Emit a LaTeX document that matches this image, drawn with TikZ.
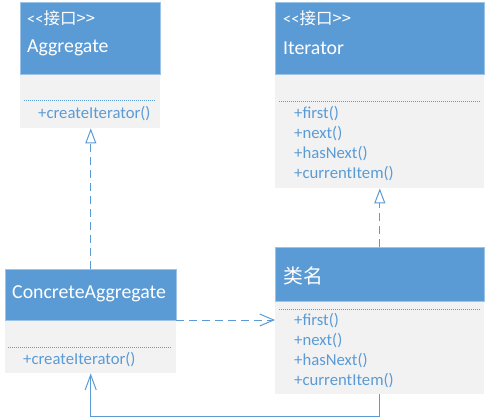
\documentclass[tikz,border=0pt]{standalone}
\usepackage{fontspec}
\newfontfamily\lat{Carlito}
\newfontfamily\cjk{Noto Sans CJK SC}
\usetikzlibrary{arrows.meta}
\definecolor{hblue}{HTML}{5B9BD5}
\definecolor{bgrey}{HTML}{F2F2F2}
\definecolor{lblue}{HTML}{9DC3E6}
\tikzset{
  hdr/.style={fill=hblue, draw=lblue, line width=0.6pt, anchor=north west, inner sep=0pt},
  body/.style={fill=bgrey, draw=none, anchor=north west, inner sep=0pt},
  stereo/.style={anchor=west, inner sep=0pt, text=white, font=\lat\fontsize{16.5}{18}\selectfont},
  cname/.style={anchor=west, inner sep=0pt, text=white, font=\lat\fontsize{19.8}{22}\selectfont},
  meth/.style={anchor=west, inner sep=0pt, text=hblue, font=\lat\fontsize{16.7}{18}\selectfont},
  sep/.style={draw=hblue, line width=0.7pt, dash pattern=on 1pt off 1pt},
  real/.style={draw=hblue, line width=1pt, dash pattern=on 8pt off 5pt, -{Triangle[open, length=15pt, width=11pt, fill=white, line width=1pt]}},
  dep/.style={draw=hblue, line width=1pt, dash pattern=on 8pt off 5pt, -{Straight Barb[length=14pt, width=12pt, line width=1pt]}},
  assoc/.style={draw=hblue, line width=1pt, -{Straight Barb[length=15pt, width=11pt, line width=1pt]}}
}
\begin{document}
\begin{tikzpicture}[x=1pt,y=-1pt]
\useasboundingbox (0,0) rectangle (486,418);
\fill[white] (0,0) rectangle (486,418);
% Aggregate
\node[body, minimum width=140pt, minimum height=54pt] (aggB) at (20,74) {};
\node[hdr, minimum width=140pt, minimum height=72pt] (aggH) at (20,2) {};
\node[stereo] (aggS) at (27,18) {<{}<\cjk{接口}>{}>};
\node[cname] (aggN) at (27,48) {Aggregate};
\draw[sep] (24,100.5) -- (155,100.5);
\node[meth] (aggM) at (38,114) {+createIterator()};
% Iterator
\node[body, minimum width=209pt, minimum height=114pt] (itB) at (275,74) {};
\node[hdr, minimum width=209pt, minimum height=72pt] (itH) at (275,2) {};
\node[stereo] (itS) at (283,18) {<{}<\cjk{接口}>{}>};
\node[cname] (itN) at (283,48) {Iterator};
\draw[sep] (279,101.5) -- (480,101.5);
\node[meth] (itM1) at (294,114) {+first()};
\node[meth] (itM2) at (294,134) {+next()};
\node[meth] (itM3) at (294,154) {+hasNext()};
\node[meth] (itM4) at (294,174) {+currentItem()};
% ConcreteAggregate
\node[body, minimum width=171pt, minimum height=53pt] (caB) at (5,320) {};
\node[hdr, minimum width=171pt, minimum height=51pt] (caH) at (5,269) {};
\node[cname] (caN) at (12,294) {ConcreteAggregate};
\draw[sep] (8,347) -- (172,347);
\node[meth] (caM) at (23,360) {+createIterator()};
% ConcreteIterator
\node[body, minimum width=209pt, minimum height=93pt] (ciB) at (275,301) {};
\node[hdr, minimum width=209pt, minimum height=54pt] (ciH) at (275,247) {};
\node[cname] (ciN) at (283,276) {\cjk{类名}};
\draw[sep] (279,309) -- (480,309);
\node[meth] (ciM1) at (294,321) {+first()};
\node[meth] (ciM2) at (294,341) {+next()};
\node[meth] (ciM3) at (294,361) {+hasNext()};
\node[meth] (ciM4) at (294,381) {+currentItem()};
% connectors
\draw[real] (caH.north) -- (caH.north |- aggB.south);
\draw[real] (ciH.north) -- (ciH.north |- itB.south);
\draw[dep] (caB.north east) -- (caB.north east -| ciB.west);
\draw[assoc] (ciB.south) -- ++(0,22) -| (caB.south);
\end{tikzpicture}
\end{document}
